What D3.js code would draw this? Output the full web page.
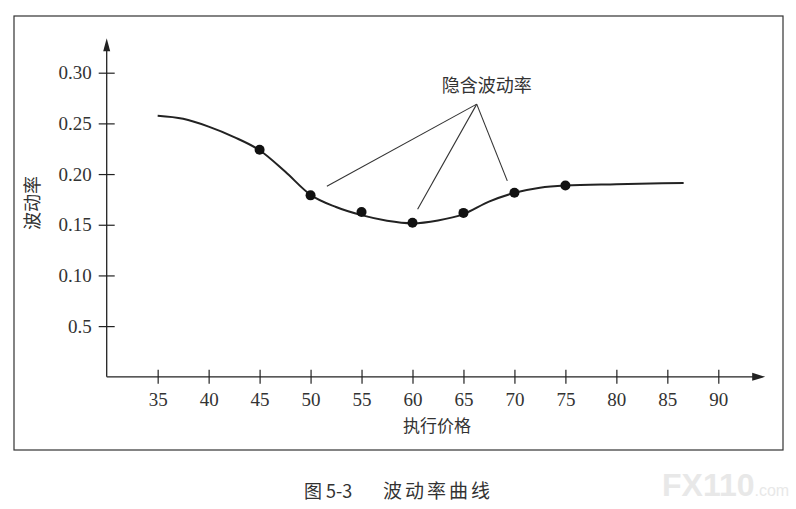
<!DOCTYPE html>
<html>
<head>
<meta charset="utf-8">
<script src="https://cdn.jsdelivr.net/npm/d3@7"></script>
<style>
  body { margin: 0; background: #fff; }
  svg { display: block; }
</style>
</head>
<body>
<svg id="chart"></svg>
<script>
let w = 796
let h = 509

// smooth fitted volatility curve (strike, vol)
let curveStrike = [35, 37.5, 40, 42.5, 45, 47.5, 50, 52.5, 55, 57.5, 60, 62.5, 65, 67.5, 70, 72.5, 75, 80, 86.6]
let curveVol = [0.2575, 0.2545, 0.2468, 0.2365, 0.2235, 0.2025, 0.1795, 0.1675, 0.1595, 0.154, 0.1515, 0.1543, 0.1605, 0.1728, 0.1815, 0.1866, 0.1887, 0.19, 0.1913]

// implied volatility points
let dotStrike = [45, 50, 55, 60, 65, 70, 75]
let dotVol = [0.224, 0.179, 0.1626, 0.152, 0.1617, 0.1815, 0.1887]

let xTicks = [35, 40, 45, 50, 55, 60, 65, 70, 75, 80, 85, 90]
let yTicks = [0.05, 0.10, 0.15, 0.20, 0.25, 0.30]
let yTickLabels = ['0.5', '0.10', '0.15', '0.20', '0.25', '0.30']

// annotation "隐含波动率": pointer lines from one origin
let noteFrom = [66.3, 0.269]
let noteToStrike = [51.6, 60.5, 69.3]
let noteToVol = [0.188, 0.1653, 0.1933]

let svg = d3.select('#chart')
  .attr('width', w)
  .attr('height', h)

svg.append('rect')
  .attr('width', w).attr('height', h)
  .attr('fill', '#fff')

// outer frame
svg.append('rect')
  .attr('x', 14).attr('y', 16)
  .attr('width', 769).attr('height', 434)
  .attr('fill', 'none')
  .attr('stroke', '#333')
  .attr('stroke-width', 1.2)

let x = d3.scaleLinear().domain([30, 90]).range([106.7, 718.3])
let y = d3.scaleLinear().domain([0, 0.30]).range([376.8, 72.7])

let ink = '#222'
let numFont = '"Liberation Serif", "DejaVu Serif", serif'
let cjkFont = '"Noto Sans CJK SC", sans-serif'

// axis lines with arrows
let xEnd = x(94.6)
let yEnd = y(0.334)

svg.append('line')
  .attr('x1', x(30)).attr('y1', y(0))
  .attr('x2', xEnd - 8).attr('y2', y(0))
  .attr('stroke', ink).attr('stroke-width', 1.3)
svg.append('line')
  .attr('x1', x(30)).attr('y1', y(0))
  .attr('x2', x(30)).attr('y2', yEnd + 8)
  .attr('stroke', ink).attr('stroke-width', 1.3)

svg.append('path')
  .attr('d', 'M' + xEnd + ',' + y(0) + 'L' + (xEnd - 13) + ',' + (y(0) - 4) + 'L' + (xEnd - 13) + ',' + (y(0) + 4) + 'Z')
  .attr('fill', ink)
svg.append('path')
  .attr('d', 'M' + x(30) + ',' + yEnd + 'L' + (x(30) - 3.5) + ',' + (yEnd + 13) + 'L' + (x(30) + 3.5) + ',' + (yEnd + 13) + 'Z')
  .attr('fill', ink)

let xAxis = svg.append('g')
  .attr('transform', 'translate(0,' + y(0) + ')')
  .call(d3.axisBottom(x).tickValues(xTicks).tickSize(7).tickPadding(9).tickFormat(d3.format('d')))
xAxis.select('.domain').remove()
xAxis.selectAll('.tick line').attr('y1', -7).attr('stroke', ink).attr('stroke-width', 1.2)
xAxis.selectAll('.tick text')
  .attr('font-family', numFont).attr('font-size', 19).attr('fill', '#333')

let yAxis = svg.append('g')
  .attr('transform', 'translate(' + x(30) + ',0)')
  .call(d3.axisLeft(y).tickValues(yTicks).tickSize(8).tickPadding(7)
    .tickFormat((d, i) => yTickLabels[i]))
yAxis.select('.domain').remove()
yAxis.selectAll('.tick line').attr('x1', 8).attr('stroke', ink).attr('stroke-width', 1.2)
yAxis.selectAll('.tick text')
  .attr('font-family', numFont).attr('font-size', 19).attr('fill', '#333')

// axis titles
svg.append('text')
  .text('执行价格')
  .attr('x', 437).attr('y', 432)
  .attr('text-anchor', 'middle')
  .attr('font-family', cjkFont).attr('font-size', 17).attr('fill', '#333')

svg.append('text')
  .text('波动率')
  .attr('transform', 'translate(39,203) rotate(-90)')
  .attr('text-anchor', 'middle')
  .attr('font-family', cjkFont).attr('font-size', 18).attr('fill', '#333')

// fitted curve
let curvePts = curveStrike.map((s, i) => [s, curveVol[i]])
let line = d3.line()
  .x(d => x(d[0]))
  .y(d => y(d[1]))
  .curve(d3.curveMonotoneX)

svg.append('path')
  .datum(curvePts)
  .attr('d', line)
  .attr('fill', 'none')
  .attr('stroke', ink)
  .attr('stroke-width', 2)

// implied vol dots
svg.selectAll('circle.dot')
  .data(dotStrike)
  .join('circle')
  .attr('class', 'dot')
  .attr('cx', d => x(d))
  .attr('cy', (d, i) => y(dotVol[i]))
  .attr('r', 5)
  .attr('fill', '#111')

// annotation
svg.selectAll('line.note')
  .data(noteToStrike)
  .join('line')
  .attr('class', 'note')
  .attr('x1', x(noteFrom[0])).attr('y1', y(noteFrom[1]))
  .attr('x2', d => x(d)).attr('y2', (d, i) => y(noteToVol[i]))
  .attr('stroke', '#333')
  .attr('stroke-width', 1.1)

svg.append('text')
  .text('隐含波动率')
  .attr('x', x(noteFrom[0]) + 10).attr('y', y(noteFrom[1]) - 12)
  .attr('text-anchor', 'middle')
  .attr('font-family', cjkFont).attr('font-size', 18).attr('fill', '#333')

// caption
svg.append('text')
  .text('图 5-3')
  .attr('x', 304).attr('y', 498)
  .attr('font-family', cjkFont).attr('font-size', 18).attr('fill', '#333')
svg.append('text')
  .text('波动率曲线')
  .attr('x', 383).attr('y', 498)
  .attr('letter-spacing', 3)
  .attr('font-family', cjkFont).attr('font-size', 19).attr('fill', '#333')

// watermark
let wm = svg.append('text')
  .attr('x', 662).attr('y', 496)
  .attr('font-family', '"Liberation Sans", Arial, sans-serif')
  .attr('fill', '#e8e8e8')
wm.append('tspan').text('FX110').attr('font-size', 32).attr('font-weight', 'bold')
wm.append('tspan').text('.com').attr('font-size', 16)
</script>
</body>
</html>
